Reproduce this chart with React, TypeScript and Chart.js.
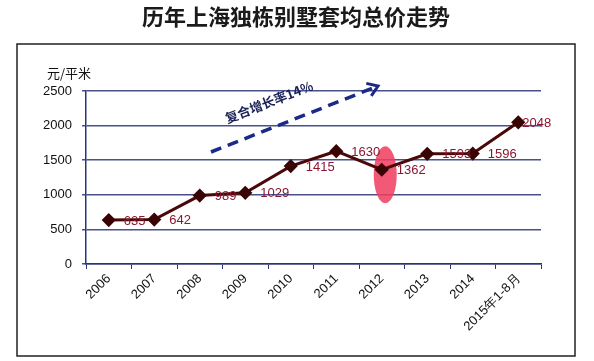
import React, { useEffect, useRef } from "react";
import { Chart, registerables } from "chart.js";

Chart.register(...registerables);

const TITLE = "历年上海独栋别墅套均总价走势";
const UNIT = "元/平米";
const GROWTH_TEXT = "复合增长率14%";
const categories = ["2006", "2007", "2008", "2009", "2010", "2011", "2012", "2013", "2014", "2015年1-8月"];
const prices = [635, 642, 989, 1029, 1415, 1630, 1362, 1593, 1596, 2048];
const highlightIndex = 6;

const NAVY = "#2a3478";
const GRID = "#4a5088";
const LINE = "#4a0808";
const LABEL = "#8c1530";

const overlayPlugin = {
  id: "overlay",
  beforeDraw(chart: any) {
    const ctx = chart.ctx;
    ctx.save();
    ctx.fillStyle = "#ffffff";
    ctx.fillRect(0, 0, chart.width, chart.height);
    // title
    ctx.fillStyle = "#1a1a1a";
    ctx.font = "bold 22px 'Noto Sans CJK SC'";
    ctx.textAlign = "center";
    ctx.textBaseline = "middle";
    ctx.fillText(TITLE, 296, 17);
    // frame
    ctx.strokeStyle = "#222";
    ctx.lineWidth = 1.5;
    ctx.strokeRect(17, 44, 558, 312);
    // unit
    ctx.fillStyle = "#111";
    ctx.font = "13px 'Noto Sans CJK SC'";
    ctx.textAlign = "left";
    ctx.fillText(UNIT, 47, 73);
    ctx.restore();
  },
  beforeDatasetsDraw(chart: any) {
    const ctx = chart.ctx;
    const meta = chart.getDatasetMeta(0);
    const p = meta.data[highlightIndex];
    if (!p) return;
    ctx.save();
    ctx.fillStyle = "rgba(240,60,95,0.85)";
    ctx.beginPath();
    ctx.ellipse(p.x + 3.5, p.y + 5, 11.5, 28.5, 0, 0, Math.PI * 2);
    ctx.fill();
    ctx.restore();
  },
  afterDatasetsDraw(chart: any) {
    const ctx = chart.ctx;
    const meta = chart.getDatasetMeta(0);
    ctx.save();
    ctx.fillStyle = LABEL;
    ctx.font = "13px 'Liberation Sans'";
    ctx.textAlign = "left";
    ctx.textBaseline = "middle";
    meta.data.forEach((el: any, i: number) => {
      const dx = i === meta.data.length - 1 ? 4 : 15;
      ctx.fillText(String(prices[i]), el.x + dx, el.y + 1);
    });
    // growth arrow
    const x1 = 211, y1 = 152, x2 = 378, y2 = 86;
    ctx.strokeStyle = "#1a2a86";
    ctx.lineWidth = 3.5;
    ctx.setLineDash([11, 7]);
    ctx.beginPath();
    ctx.moveTo(x1, y1);
    ctx.lineTo(x2 - 6, y2 + 2.4);
    ctx.stroke();
    ctx.setLineDash([]);
    const ang = Math.atan2(y2 - y1, x2 - x1);
    ctx.beginPath();
    ctx.moveTo(x2 - 12 * Math.cos(ang - 0.6), y2 - 12 * Math.sin(ang - 0.6));
    ctx.lineTo(x2, y2);
    ctx.lineTo(x2 - 12 * Math.cos(ang + 0.6), y2 - 12 * Math.sin(ang + 0.6));
    ctx.lineWidth = 3;
    ctx.stroke();
    // growth text
    ctx.translate(269, 102);
    ctx.rotate(-0.37);
    ctx.fillStyle = "#1c2258";
    ctx.font = "bold 13px 'Noto Sans CJK SC'";
    ctx.textAlign = "center";
    ctx.fillText(GROWTH_TEXT, 0, 0);
    ctx.restore();
  },
};

export default function App() {
  const ref = useRef<HTMLCanvasElement>(null);
  useEffect(() => {
    if (!ref.current) return;
    const chart = new Chart(ref.current, {
      type: "line",
      data: {
        labels: categories,
        datasets: [
          {
            data: prices,
            borderColor: LINE,
            borderWidth: 3,
            pointStyle: "rectRot",
            pointRadius: 5,
            pointBackgroundColor: "#3a0404",
            pointBorderColor: "#3a0404",
            tension: 0,
          },
        ],
      },
      options: {
        responsive: false,
        animation: false,
        layout: { padding: { left: 0, top: 91, right: 53, bottom: 12 } },
        plugins: { legend: { display: false }, title: { display: false }, tooltip: { enabled: false } },
        scales: {
          x: {
            offset: true,
            grid: { offset: true, drawOnChartArea: false, drawTicks: true, tickLength: 5, color: NAVY },
            border: { color: NAVY, width: 1.5 },
            ticks: {
              minRotation: 45,
              maxRotation: 45,
              padding: 2,
              color: "#111",
              font: { family: "'Liberation Sans'", size: 13 },
            },
            afterFit: (s: any) => { s.height = 85; },
          },
          y: {
            min: 0,
            max: 2500,
            ticks: {
              stepSize: 500,
              color: "#111",
              padding: 10,
              font: { family: "'Liberation Sans'", size: 13 },
              callback: (v: any) => String(v),
            },
            grid: { color: GRID, lineWidth: 1.5, tickLength: 4 },
            border: { color: NAVY, width: 1.5 },
            afterFit: (s: any) => { s.width = 86; },
          },
        },
      },
      plugins: [overlayPlugin],
    });
    return () => chart.destroy();
  }, []);
  return (
    <div style={{ position: "fixed", left: 0, top: 0, width: 594, height: 361, background: "#fff" }}>
      <canvas ref={ref} width={594} height={361} style={{ display: "block" }} />
    </div>
  );
}
